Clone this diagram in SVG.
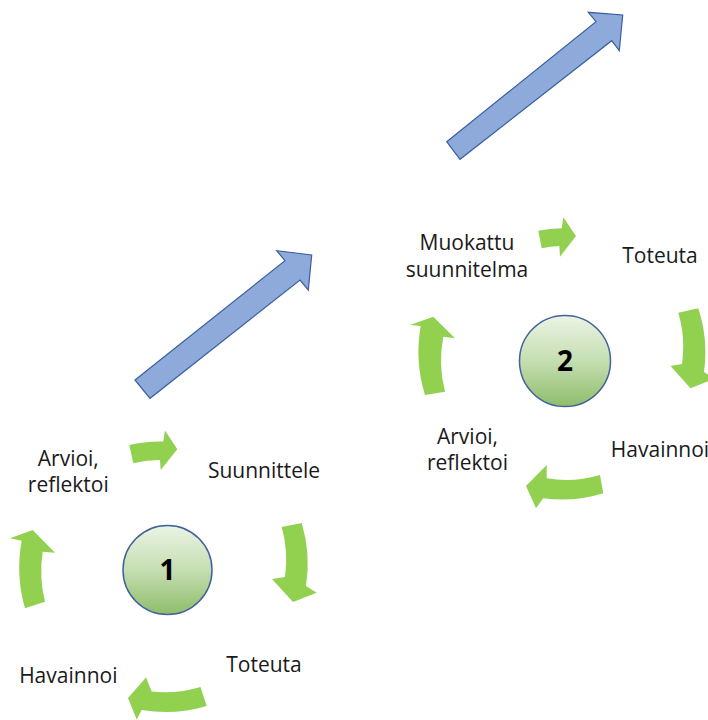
<svg xmlns="http://www.w3.org/2000/svg" width="708" height="720" viewBox="0 0 708 720">
  <defs>
    <linearGradient id="ballFill" x1="0" y1="0" x2="0" y2="1">
      <stop offset="0" stop-color="#EBF4E4"/>
      <stop offset="0.5" stop-color="#C5DEB2"/>
      <stop offset="1" stop-color="#8FBD6B"/>
    </linearGradient>
    <style>
      .label { font-family: "Open Sans", "Liberation Sans", sans-serif; font-size: 21px; fill: #1a1a1a; text-anchor: middle; }
      .num { font-family: "Open Sans", "Liberation Sans", sans-serif; font-size: 28px; font-weight: bold; fill: #000; text-anchor: middle; }
      .ball { fill: url(#ballFill); stroke: #41629C; stroke-width: 1.5; }
      .cyc { fill: #92D050; stroke: none; }
      .big { fill: #8EAADB; stroke: #3A5E9E; stroke-width: 1.2; stroke-linejoin: miter; }
    </style>
  </defs>

  <rect width="708" height="720" fill="#ffffff"/>

  <!-- connectors -->
  <g id="connectors">
    <!-- progression arrows between rounds -->
    <polygon class="big" points="135,380 285,260.7 276.7,250.7 311.7,255 308.3,290 300,280 150,398.3"/>
    <polygon class="big" points="446.7,141.7 596,21.7 588.3,12.3 622.7,15 619.3,50.7 611.7,40.7 460,159.3"/>

    <!-- round 1 cycle -->
    <path class="cyc" d="M129.3,445 A130,130 0 0 1 163.3,441.5 L165,430.5 L177.3,449.3 L160.7,470 L160,460 A111,111 0 0 0 133.3,463.3 Z"/>
    <path class="cyc" d="M301.7,523 A141,141 0 0 1 306,586 L316.7,592.7 L293,602 L272,579 L285,577 A120,120 0 0 0 281.7,527 Z"/>
    <path class="cyc" d="M206.7,706 A142,142 0 0 1 141.7,710 L136.7,719.5 L128,698 L146,677.5 L151.7,691.5 A122,122 0 0 0 200.5,687 Z"/>
    <path class="cyc" d="M25,608.3 A147,147 0 0 1 21.7,540.7 L10,538.3 L32.7,530 L55,552.7 L42.7,551.7 A126,126 0 0 0 45,601.7 Z"/>

    <!-- round 2 cycle -->
    <path class="cyc" d="M538.3,230.7 A133,133 0 0 1 561.7,228.3 L563.3,217.3 L576,236 L560,256.7 L559.3,246 A115,115 0 0 0 541.7,248.3 Z"/>
    <path class="cyc" d="M698.3,308.3 A141,141 0 0 1 704,372 L714.7,378.7 L690.5,388.3 L670.5,366 L682,364 A120,120 0 0 0 678.3,312.7 Z"/>
    <path class="cyc" d="M603.3,493.3 A138,138 0 0 1 543.3,498.3 L536,508.3 L526,486 L546.7,465 L546.7,478.3 A119,119 0 0 0 600,475 Z"/>
    <path class="cyc" d="M425,395 A146,146 0 0 1 420.7,326 L410,325 L433.3,316.7 L455,338.3 L443.3,336.7 A124,124 0 0 0 445,391.7 Z"/>
  </g>

  <!-- round 1 -->
  <g id="round1">
    <circle class="ball" cx="167.5" cy="570" r="44.5"/>
    <text class="num" x="167.5" y="580">1</text>
  </g>
  <g id="r1-arvioi">
    <text class="label" x="68.3" y="465.5">Arvioi,</text>
    <text class="label" x="68.3" y="492">reflektoi</text>
  </g>
  <g id="r1-suunnittele">
    <text class="label" x="264" y="478">Suunnittele</text>
  </g>
  <g id="r1-toteuta">
    <text class="label" x="264" y="671.5">Toteuta</text>
  </g>
  <g id="r1-havainnoi">
    <text class="label" x="68.3" y="683">Havainnoi</text>
  </g>

  <!-- round 2 -->
  <g id="round2">
    <circle class="ball" cx="565" cy="361" r="45.5"/>
    <text class="num" x="565" y="371">2</text>
  </g>
  <g id="r2-muokattu">
    <text class="label" x="467" y="250">Muokattu</text>
    <text class="label" x="467" y="276.5">suunnitelma</text>
  </g>
  <g id="r2-toteuta">
    <text class="label" x="660" y="263">Toteuta</text>
  </g>
  <g id="r2-havainnoi">
    <text class="label" x="660" y="457">Havainnoi</text>
  </g>
  <g id="r2-arvioi">
    <text class="label" x="467.5" y="443.5">Arvioi,</text>
    <text class="label" x="467.5" y="470">reflektoi</text>
  </g>
</svg>
